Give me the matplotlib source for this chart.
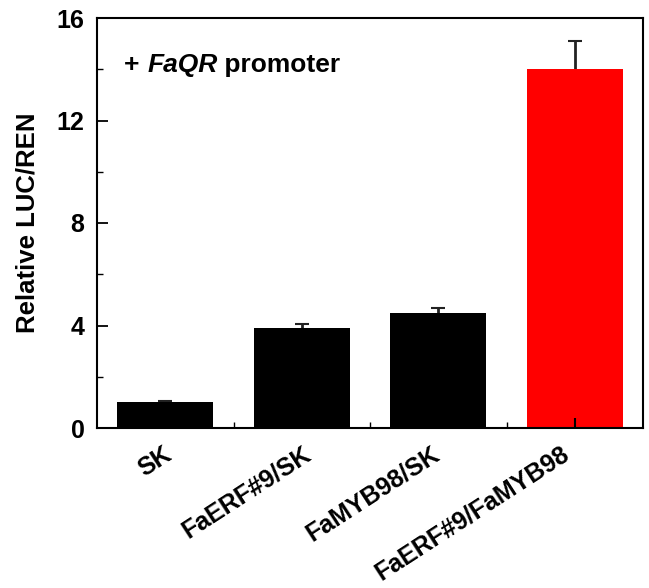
import numpy as np
import matplotlib.pyplot as plt
import matplotlib.transforms as mtransforms

# Data
groups = ['SK', 'FaERF#9/SK', 'FaMYB98/SK', 'FaERF#9/FaMYB98']
luc_ren = [1.0, 3.9, 4.5, 14.0]
err = [0.07, 0.16, 0.2, 1.1]
colors = ['black', 'black', 'black', '#ff0000']

plt.rcParams['font.family'] = ['Liberation Sans', 'DejaVu Sans']
plt.rcParams['font.weight'] = 'bold'

fig = plt.figure(figsize=(6.49, 5.88), dpi=100)
ax = fig.add_axes([97/649, 1-428/588, (643-97)/649, (428-18)/588])

x = np.arange(len(groups))
# error bars sit under the bars so only the upper half shows
ax.errorbar(x, luc_ren, yerr=err, fmt='none', ecolor='#222222',
            elinewidth=2, capsize=5, capthick=1.5, zorder=0.9)
ax.bar(x, luc_ren, width=0.7, color=colors, zorder=1)

ax.set_xlim(-0.5, 3.5)
ax.set_ylim(0, 16)
ax.set_yticks([0, 4, 8, 12, 16])
ax.set_yticks([2, 6, 10, 14], minor=True)
ax.tick_params(axis='y', which='major', direction='in', length=8, width=1.3,
               labelsize=18, pad=9)
ax.tick_params(axis='y', which='minor', direction='in', length=4, width=1.0)
ax.set_xticks(x)
ax.set_xticks(x[:-1] + 0.5, minor=True)
ax.tick_params(axis='x', which='major', direction='in', length=7, width=1.5,
               labelsize=18, pad=10)
ax.tick_params(axis='x', which='minor', direction='in', length=4, width=1.0)
ax.set_xticklabels(groups, rotation=33, ha='right', va='top', rotation_mode='anchor')
# small per-label nudges (pixels) so the labels sit like the original
nudge = [-2, 0, -7, -14]
for lab, dx in zip(ax.get_xticklabels(), nudge):
    off = mtransforms.ScaledTranslation(dx/100, 0, fig.dpi_scale_trans)
    lab.set_transform(lab.get_transform() + off)

for s in ax.spines.values():
    s.set_linewidth(1.5)

ax.set_ylabel('Relative LUC/REN', fontsize=18.5, fontweight='bold')
ax.yaxis.set_label_coords(-57/546, 0.5)

# "+ FaQR promoter" with the gene name in bold italic
renderer = fig.canvas.get_renderer()
t = ax.text(0.05, 0.885, '+ ', transform=ax.transAxes, fontsize=19,
            fontweight='bold', va='center')
for piece, style in [('FaQR', 'italic'), (' promoter', 'normal')]:
    t = ax.annotate(piece, xy=(1, 0.5), xycoords=t, va='center', ha='left',
                    fontsize=19, fontweight='bold', fontstyle=style)
    t.draw(renderer)

fig.savefig('out.png', dpi=100)
